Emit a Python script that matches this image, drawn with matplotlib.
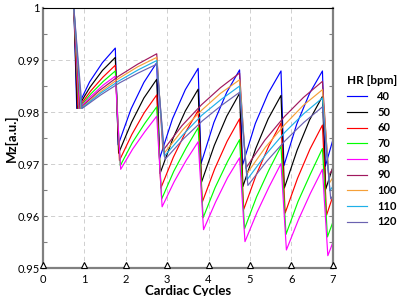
import numpy as np
import matplotlib.pyplot as plt
from matplotlib.ticker import MultipleLocator

plt.rcParams['font.family'] = ['Lato', 'DejaVu Sans']

hr_bpm = [40, 50, 60, 70, 80, 90, 100, 110, 120]
line_colors = ['#0000ff', '#000000', '#ff0000', '#00ff00', '#ff00ff',
               '#a0185e', '#f5a038', '#1eb0e8', '#6a62b0']

# cycle fraction where each readout ends (trough)
trough_pos = {40: 0.82, 50: 0.83, 60: 0.85, 70: 0.87, 80: 0.88,
              90: 0.90, 100: 0.92, 110: 0.93, 120: 0.95}

# 40-80 bpm: readout every beat (peaks at 1.75 ... 6.75)
# 90-120 bpm: readout every second beat (peaks at 2.75, 4.75, 6.75)
peaks = {
    40: [0.9923, 0.9895, 0.9884, 0.9881, 0.9879, 0.9879],
    50: [0.9905, 0.9863, 0.9844, 0.9836, 0.9832, 0.9830],
    60: [0.9890, 0.9833, 0.9803, 0.9787, 0.9779, 0.9775],
    70: [0.9879, 0.9810, 0.9770, 0.9747, 0.9734, 0.9730],
    80: [0.9869, 0.9792, 0.9743, 0.9712, 0.9701, 0.9690],
    90: [0.9912, 0.9875, 0.9859],
    100: [0.9905, 0.9862, 0.9843],
    110: [0.9899, 0.9850, 0.9827],
    120: [0.9892, 0.9838, 0.9810],
}
troughs = {
    40: [0.9807, 0.9737, 0.9711, 0.9701, 0.9698, 0.9697, 0.9696],
    50: [0.9807, 0.9721, 0.9682, 0.9665, 0.9657, 0.9654, 0.9652],
    60: [0.9807, 0.9707, 0.9654, 0.9627, 0.9613, 0.9606, 0.9602],
    70: [0.9807, 0.9697, 0.9633, 0.9597, 0.9576, 0.9565, 0.9560],
    80: [0.9807, 0.9690, 0.9618, 0.9574, 0.9551, 0.9535, 0.9524],
    90: [0.9807, 0.9726, 0.9692, 0.9678],
    100: [0.9807, 0.9720, 0.9681, 0.9664],
    110: [0.9807, 0.9715, 0.9670, 0.9649],
    120: [0.9807, 0.9709, 0.9659, 0.9633],
}
# points along each recovery curve, x offsets relative to the peak's cycle
rise_offsets = {40: [0.13, 0.44], 50: [0.14, 0.44], 60: [0.15, 0.45],
                70: [0.16, 0.46], 80: [0.17, 0.46],
                90: [-0.64, -0.17, 0.29], 100: [-0.62, -0.16, 0.29],
                110: [-0.61, -0.16, 0.30], 120: [-0.60, -0.15, 0.30]}
rise_values = {
    40: [[0.9858, 0.9895], [0.9806, 0.9857], [0.9787, 0.9843],
         [0.9780, 0.9838], [0.9778, 0.9836], [0.9777, 0.9836]],
    50: [[0.9848, 0.9880], [0.9780, 0.9827], [0.9749, 0.9802],
         [0.9736, 0.9792], [0.9730, 0.9787], [0.9727, 0.9785]],
    60: [[0.9840, 0.9867], [0.9757, 0.9799], [0.9713, 0.9762],
         [0.9691, 0.9744], [0.9679, 0.9734], [0.9673, 0.9729]],
    70: [[0.9835, 0.9859], [0.9741, 0.9778], [0.9686, 0.9731],
         [0.9655, 0.9705], [0.9637, 0.9689], [0.9628, 0.9681]],
    80: [[0.9831, 0.9852], [0.9729, 0.9762], [0.9666, 0.9707],
         [0.9627, 0.9674], [0.9607, 0.9656], [0.9593, 0.9644]],
    90: [[0.9841, 0.9869, 0.9892], [0.9774, 0.9814, 0.9847],
         [0.9746, 0.9791, 0.9828]],
    100: [[0.9838, 0.9865, 0.9887], [0.9766, 0.9804, 0.9836],
          [0.9733, 0.9776, 0.9813]],
    110: [[0.9836, 0.9860, 0.9881], [0.9757, 0.9794, 0.9824],
          [0.9719, 0.9761, 0.9797]],
    120: [[0.9833, 0.9856, 0.9875], [0.9749, 0.9783, 0.9812],
          [0.9705, 0.9745, 0.9780]],
}
end_values = {40: 0.9746, 50: 0.9694, 60: 0.9638, 70: 0.9588, 80: 0.9549,
              90: 0.9691, 100: 0.9674, 110: 0.9657, 120: 0.9639}

rwave_x = [0, 1, 2, 3, 4, 5, 6, 7]

fig = plt.figure(figsize=(4, 2.96), dpi=100)
ax = fig.add_axes([0.107, 0.094, 0.725, 0.879])

for hr, col in zip(hr_bpm, line_colors):
    tp = trough_pos[hr]
    xs = [0, 0.75, tp]
    ys = [1.0, 1.0, troughs[hr][0]]
    cycles = range(1, 7) if hr <= 80 else [2, 4, 6]
    for j, k in enumerate(cycles):
        xs += [k + off for off in rise_offsets[hr]]
        ys += rise_values[hr][j]
        xs += [k + 0.75, k + tp]
        ys += [peaks[hr][j], troughs[hr][j + 1]]
    xs.append(7)
    ys.append(end_values[hr])
    ax.plot(xs, ys, color=col, lw=0.85, label=str(hr))

ax.plot(rwave_x, [0.9506] * len(rwave_x), ls='none', marker='^', ms=5,
        mfc='white', mec='black', mew=0.8, clip_on=False, zorder=5)

ax.set_xlim(0, 7)
ax.set_ylim(0.95, 1)
ax.set_xticks(rwave_x)
ax.set_yticks([0.95, 0.96, 0.97, 0.98, 0.99, 1.0])
ax.set_yticklabels(['0.95', '0.96', '0.97', '0.98', '0.99', '1'])
ax.yaxis.set_minor_locator(MultipleLocator(0.005))
ax.tick_params(axis='y', which='both', direction='in', left=True, right=True,
               length=3, width=0.8, color='#808080', labelsize=8, pad=2)
ax.tick_params(axis='x', length=0, labelsize=8, pad=4)
ax.grid(True, color='#c8c8c8', ls=(0, (5, 4)), lw=0.6)

for s in ['left', 'bottom', 'right']:
    ax.spines[s].set_color('#808080')
    ax.spines[s].set_linewidth(1.6)
ax.spines['top'].set_color('black')
ax.spines['top'].set_linewidth(0.8)

ax.set_xlabel('Cardiac Cycles', fontweight='bold', fontsize=9.5, labelpad=0)
ax.set_ylabel('Mz[a.u.]', fontweight='bold', fontsize=9.5, labelpad=0)

ax.legend(title='HR [bpm]', loc='upper left', bbox_to_anchor=(0.868, 0.745),
          bbox_transform=fig.transFigure, frameon=False,
          prop={'weight': 'bold', 'size': 8},
          title_fontproperties={'weight': 'bold', 'size': 8.5},
          handlelength=1.8, handletextpad=0.9, labelspacing=0.42,
          borderpad=0, borderaxespad=0, alignment='left')

fig.savefig('out.png', dpi=100)
